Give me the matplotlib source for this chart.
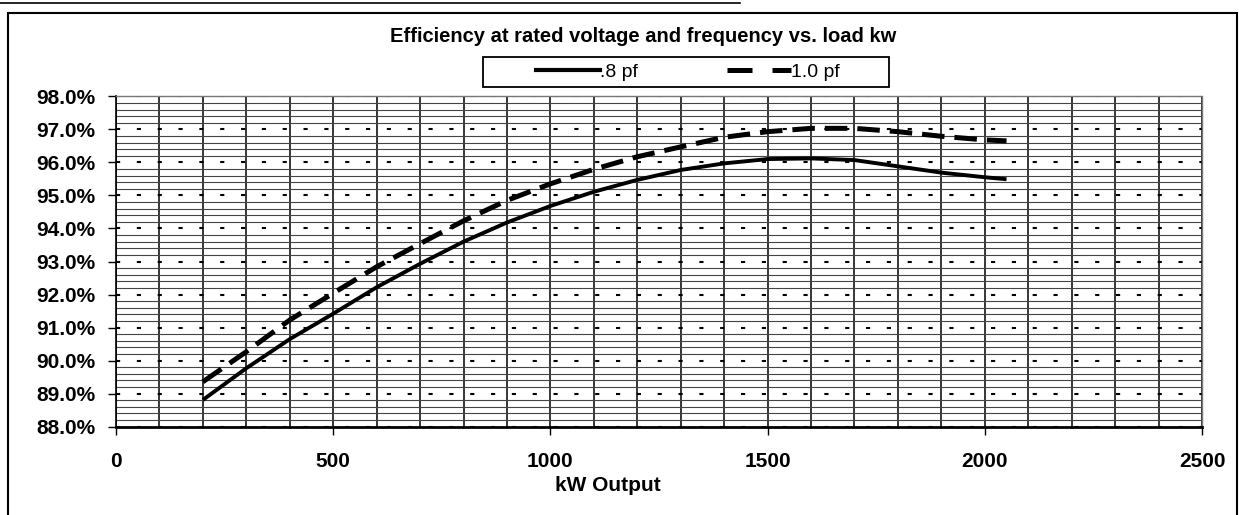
import matplotlib
matplotlib.use("Agg")
import matplotlib.pyplot as plt
from matplotlib.ticker import MultipleLocator, FuncFormatter
from matplotlib.lines import Line2D
from matplotlib.patches import Rectangle

# ---- data ----
kw_output = [200, 300, 400, 500, 600, 700, 800, 900, 1000, 1100, 1200,
             1300, 1400, 1500, 1600, 1700, 1800, 1900, 2000, 2050]
eff_08pf = [88.81, 89.77, 90.65, 91.42, 92.22, 92.93, 93.60, 94.18, 94.68, 95.11,
            95.47, 95.77, 95.97, 96.10, 96.12, 96.07, 95.88, 95.69, 95.55, 95.49]
eff_10pf = [89.36, 90.27, 91.23, 92.04, 92.84, 93.54, 94.23, 94.85, 95.35, 95.79,
            96.17, 96.47, 96.76, 96.93, 97.03, 97.03, 96.93, 96.79, 96.68, 96.65]
series_labels = [".8 pf", "1.0 pf"]
title_text = "Efficiency at rated voltage and frequency vs. load kw"
x_label = "kW Output"

W, H = 1239, 515
fig = plt.figure(figsize=(W / 100, H / 100), dpi=100)
plt.rcParams['font.family'] = ['Liberation Sans', 'DejaVu Sans']

ax = fig.add_axes([116 / W, 1 - 426.7 / H, (1202 - 116) / W, (426.7 - 96.3) / H])

ax.set_xlim(0, 2500)
ax.set_ylim(88, 98)

# grid
ax.xaxis.set_major_locator(MultipleLocator(500))
ax.xaxis.set_minor_locator(MultipleLocator(100))
ax.yaxis.set_major_locator(MultipleLocator(1))
ax.yaxis.set_minor_locator(MultipleLocator(0.2))
ax.grid(which='minor', axis='x', color='black', lw=1.1)
ax.grid(which='major', axis='x', color='black', lw=1.1)
ax.grid(which='minor', axis='y', color='#444444', lw=0.8)
ax.grid(which='major', axis='y', color='black', lw=1.5, linestyle=(0, (2, 8)))
ax.set_axisbelow(True)

ax.plot(kw_output, eff_08pf, color='black', lw=2.8, solid_capstyle='butt',
        label=series_labels[0], zorder=3)
ax.plot(kw_output, eff_10pf, color='black', lw=3.6, dashes=(4.5, 2.0),
        label=series_labels[1], zorder=3)

ax.yaxis.set_major_formatter(FuncFormatter(lambda v, p: f"{v:.1f}%"))
ax.tick_params(axis='y', which='major', direction='out', length=6, width=1,
               labelsize=15, pad=9)
ax.tick_params(axis='x', which='major', direction='out', length=6, width=1,
               labelsize=15, pad=12)
ax.tick_params(which='minor', length=0)
for lab in ax.get_xticklabels() + ax.get_yticklabels():
    lab.set_fontweight('bold')

ax.spines['left'].set_linewidth(1.2)
ax.spines['bottom'].set_linewidth(2.0)
for s in ('top', 'right'):
    ax.spines[s].set_color('#777777')
    ax.spines[s].set_linestyle((0, (1, 1)))
    ax.spines[s].set_linewidth(1.0)

ax.set_xlabel(x_label, fontsize=15, fontweight='bold')
ax.xaxis.set_label_coords((608 - 116) / (1202 - 116), -0.15)

fig.text(643 / W, 1 - 37 / H, title_text, ha='center', va='center',
         fontsize=14.5, fontweight='bold')

# legend (frame drawn separately to match the wide Excel-style box)
handles = [Line2D([], [], color='black', lw=3.0),
           Line2D([], [], color='black', lw=3.6, dashes=(5, 4))]
leg = fig.legend(handles, series_labels, loc='center', ncol=2,
                 bbox_to_anchor=(688 / W, 1 - 72 / H), fontsize=14,
                 frameon=False, handlelength=3.3, handletextpad=0.0,
                 columnspacing=4.6, borderpad=0.2, borderaxespad=0)
fig.patches.append(Rectangle((483 / W, 1 - 87 / H), (889 - 483) / W, 30 / H,
                             transform=fig.transFigure, fill=False,
                             edgecolor='black', lw=1.3))

# outer frame of the scanned chart
fig.patches.append(Rectangle((8 / W, -0.02), (1237 - 8) / W, 1.02 - 13 / H,
                             transform=fig.transFigure, fill=False,
                             edgecolor='black', lw=1.5))
fig.lines.append(Line2D([0, 740 / W], [1 - 3 / H, 1 - 3 / H],
                        transform=fig.transFigure, color='black', lw=1.2))

fig.savefig("out.png", dpi=100)
